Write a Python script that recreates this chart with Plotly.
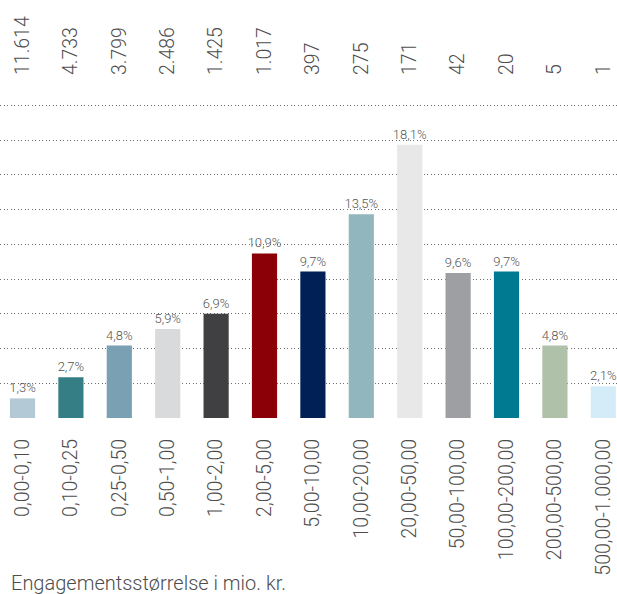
import plotly.graph_objects as go

categories = ["0,00-0,10", "0,10-0,25", "0,25-0,50", "0,50-1,00", "1,00-2,00",
              "2,00-5,00", "5,00-10,00", "10,00-20,00", "20,00-50,00",
              "50,00-100,00", "100,00-200,00", "200,00-500,00", "500,00-1.000,00"]
counts = ["11.614", "4.733", "3.799", "2.486", "1.425", "1.017", "397",
          "275", "171", "42", "20", "5", "1"]
shares = [1.3, 2.7, 4.8, 5.9, 6.9, 10.9, 9.7, 13.5, 18.1, 9.6, 9.7, 4.8, 2.1]
colors = ["#b3cad6", "#357e85", "#7aa0b3", "#d9dadc", "#404042", "#8b0006",
          "#002056", "#91b6bd", "#e8e8e8", "#9e9fa3", "#007a90", "#b0c1aa",
          "#d4ecf8"]

font = "Roboto, 'Liberation Sans', sans-serif"
labels = [f"{v:.1f}%".replace(".", ",") for v in shares]

fig = go.Figure()
fig.add_trace(go.Bar(
    x=categories, y=shares,
    marker=dict(color=colors, line=dict(width=0)),
    width=0.52,
    text=labels, textposition="outside", constraintext="none",
    textfont=dict(family=font, size=13, color="#555555", weight=300),
    cliponaxis=False,
    hoverinfo="skip",
))
# invisible trace so the top axis with the counts is drawn
fig.add_trace(go.Scatter(
    x=counts, y=shares, xaxis="x2", mode="markers",
    marker=dict(opacity=0), hoverinfo="skip", showlegend=False,
))

xrange = [-0.465, 12.283]
fig.update_layout(
    width=617, height=594,
    margin=dict(l=0, r=0, t=76, b=176),
    plot_bgcolor="white", paper_bgcolor="white",
    showlegend=False,
    xaxis=dict(
        type="category", range=xrange,
        tickangle=-90, showgrid=False, zeroline=False, showline=False,
        ticklabelstandoff=16,
        tickfont=dict(family=font, size=19.5, color="#4d4d4d", weight=300),
    ),
    xaxis2=dict(
        type="category", range=xrange, overlaying="x", side="top",
        tickangle=-90, showgrid=False, zeroline=False, showline=False,
        tickfont=dict(family=font, size=19.5, color="#4d4d4d", weight=300),
    ),
    yaxis=dict(
        range=[0, 22.65], dtick=2.3, tick0=0,
        showticklabels=False, showgrid=True, gridcolor="#6e6e6e",
        griddash="1px,2.5px", gridwidth=1, zeroline=False, showline=False,
    ),
    annotations=[dict(
        text="Engagementsstørrelse i mio. kr.", xref="paper", yref="paper",
        x=0, y=0, xanchor="left", yanchor="top", yshift=-151, xshift=9,
        showarrow=False,
        font=dict(family=font, size=20, color="#4d4d4d", weight=300),
    )],
)

# drop the default page margin so the figure fills the window
fig.write_html("out.html", config={"displayModeBar": False},
               post_script="document.body.style.margin = '0';")
